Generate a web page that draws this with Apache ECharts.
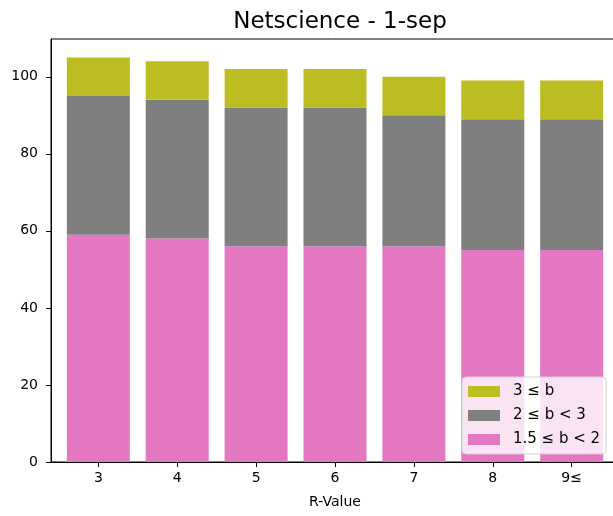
<!DOCTYPE html>
<html>
<head>
<meta charset="utf-8">
<script src="https://cdn.jsdelivr.net/npm/echarts@6/dist/echarts.min.js"></script>
<style>html,body{margin:0;padding:0;background:#fff}#c{width:613px;height:516px}</style>
</head>
<body>
<div id="c"></div>
<script>
const categories = ['3', '4', '5', '6', '7', '8', '9≤'];
const low = [59, 58, 56, 56, 56, 55, 55];      // 1.5 ≤ b < 2
const mid = [36, 36, 36, 36, 34, 34, 34];      // 2 ≤ b < 3
const high = [10, 10, 10, 10, 10, 10, 10];     // 3 ≤ b
const yTicks = [0, 20, 40, 60, 80, 100];
const names = ['3 ≤ b', '2 ≤ b < 3', '1.5 ≤ b < 2'];

const idx = categories.map((_, i) => i);
const toPts = arr => arr.map((v, i) => [v, i]);
const font = 'DejaVu Sans';

const mk = (name, arr, color) => ({
  name, type: 'bar', stack: 's', barWidth: 63,
  dimensions: ['val', 'pos'], encode: {x: 'pos', y: 'val'},
  data: toPts(arr), itemStyle: {color}
});

const chart = echarts.init(document.getElementById('c'), null, {renderer: 'canvas'});
chart.setOption({
  animation: false,
  textStyle: {fontFamily: font},
  title: {
    text: 'Netscience - 1-sep', left: 335, top: 6, textAlign: 'center',
    textStyle: {fontFamily: font, fontSize: 23, fontWeight: 'normal', color: '#000'}
  },
  grid: {left: 51, width: 568, top: 39, bottom: 54, outerBoundsMode: 'none', containLabel: false,
    show: true, borderColor: '#000', borderWidth: 1, backgroundColor: 'transparent'},
  xAxis: {
    type: 'value', min: -0.6, max: 6.6,
    name: 'R-Value', nameLocation: 'middle', nameGap: 33,
    nameTextStyle: {fontFamily: font, fontSize: 14, color: '#000'},
    axisLine: {show: true, onZero: false, lineStyle: {color: '#000', width: 1}},
    axisTick: {show: true, length: 5, lineStyle: {color: '#000'}, customValues: idx},
    axisLabel: {fontFamily: font, fontSize: 14, color: '#000', margin: 9, customValues: idx,
      formatter: v => categories[Math.round(v)]},
    splitLine: {show: false}
  },
  yAxis: {
    type: 'value', min: 0, max: 109.8,
    axisLine: {show: true, onZero: false, lineStyle: {color: '#000', width: 1}},
    axisTick: {show: true, length: 5, lineStyle: {color: '#000'}, customValues: yTicks},
    axisLabel: {fontFamily: font, fontSize: 14, color: '#000', margin: 13, customValues: yTicks},
    splitLine: {show: false}
  },
  legend: {
    orient: 'vertical', left: 462, top: 377,
    data: names,
    itemWidth: 32, itemHeight: 11, itemGap: 9,
    padding: [7, 6, 7, 6],
    backgroundColor: 'rgba(255,255,255,0.8)', borderColor: '#d0d0d0', borderWidth: 1, borderRadius: 4,
    icon: 'rect',
    textStyle: {fontFamily: font, fontSize: 15, color: '#000', padding: [0, 0, 0, 8]}
  },
  series: [
    mk(names[2], low, '#e377c2'),
    mk(names[1], mid, '#7f7f7f'),
    mk(names[0], high, '#bcbd22')
  ]
});
</script>
</body>
</html>
